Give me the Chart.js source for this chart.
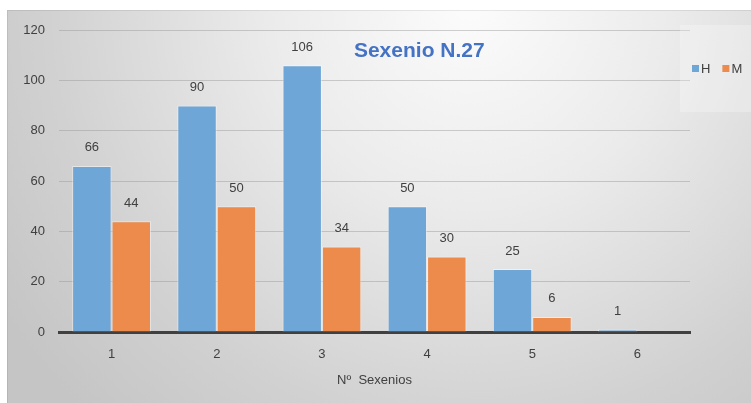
<!DOCTYPE html>
<html>
<head>
<meta charset="utf-8">
<script src="https://cdn.jsdelivr.net/npm/chart.js@4/dist/chart.umd.min.js"></script>
<style>
  html, body { margin: 0; padding: 0; background: #ffffff; }
  #wrap { width: 751px; height: 403px; position: relative; }
</style>
</head>
<body>
<div id="wrap"><canvas id="c" width="751" height="403"></canvas></div>
<script>
// Número de sexenios por sexo
const categories = ['1', '2', '3', '4', '5', '6'];
const seriesNames = ['H', 'M'];
const hValues = [66, 90, 106, 50, 25, 1];
const mValues = [44, 50, 34, 30, 6, null];
const yTicks = [0, 20, 40, 60, 80, 100, 120];

const BLUE = 'rgb(111,166,216)';
const ORANGE = 'rgb(236,139,76)';
const TEXT = '#404040';
const FONT = '"Liberation Sans", Arial, sans-serif';

// Card background with a soft radial shading
const backgroundPlugin = {
  id: 'cardBackground',
  beforeDraw(chart) {
    const ctx = chart.ctx;
    const x0 = 7, y0 = 10, w = chart.width - x0, h = chart.height - y0;
    ctx.save();
    ctx.fillStyle = '#ffffff';
    ctx.fillRect(0, 0, chart.width, chart.height);
    const g = ctx.createRadialGradient(470, 5, 10, 470, 5, 560);
    g.addColorStop(0, '#fbfbfb');
    g.addColorStop(0.35, '#ebebeb');
    g.addColorStop(0.75, '#d1d1d1');
    g.addColorStop(1, '#c5c5c5');
    ctx.fillStyle = g;
    ctx.fillRect(x0, y0, w, h);
    ctx.strokeStyle = 'rgba(0,0,0,0.08)';
    ctx.lineWidth = 1;
    ctx.beginPath();
    ctx.moveTo(x0 + 0.5, chart.height);
    ctx.lineTo(x0 + 0.5, y0 + 0.5);
    ctx.lineTo(chart.width, y0 + 0.5);
    ctx.stroke();
    ctx.restore();
  }
};

// Value labels above each bar, chart title and legend box
const overlayPlugin = {
  id: 'overlay',
  afterDatasetsDraw(chart) {
    const ctx = chart.ctx;
    ctx.save();
    ctx.font = '13px ' + FONT;
    ctx.fillStyle = TEXT;
    ctx.textAlign = 'center';
    ctx.textBaseline = 'middle';
    chart.data.datasets.forEach((ds, di) => {
      const meta = chart.getDatasetMeta(di);
      meta.data.forEach((bar, i) => {
        const v = ds.data[i];
        if (v === null || v === undefined) return;
        ctx.fillText(String(v), bar.x, bar.y - 18);
      });
    });

    // Title inside the plot area
    const area = chart.chartArea;
    ctx.font = 'bold 21px ' + FONT;
    ctx.fillStyle = '#4472C4';
    ctx.fillText('Sexenio N.27', area.left + (area.right - area.left) * 0.571, area.top + 21);

    // Legend box
    const lx = area.right - 10, ly = 25, lw = chart.width - lx, lh = 87;
    ctx.fillStyle = 'rgba(255,255,255,0.25)';
    ctx.fillRect(lx, ly, lw, lh);
    ctx.font = '13px ' + FONT;
    ctx.textAlign = 'left';
    let x = lx + 12;
    const y = ly + 44;
    chart.data.datasets.forEach((ds) => {
      ctx.fillStyle = ds.backgroundColor;
      ctx.fillRect(x, y - 4, 7, 7);
      ctx.fillStyle = TEXT;
      ctx.fillText(ds.label, x + 9, y);
      x += 9 + ctx.measureText(ds.label).width + 12;
    });
    ctx.restore();
  }
};

new Chart(document.getElementById('c'), {
  type: 'bar',
  data: {
    labels: categories,
    datasets: [
      { label: seriesNames[0], data: hValues, backgroundColor: BLUE,
        borderColor: 'rgba(255,255,255,0.45)', borderWidth: 1,
        categoryPercentage: 0.75, barPercentage: 1.0 },
      { label: seriesNames[1], data: mValues, backgroundColor: ORANGE,
        borderColor: 'rgba(255,255,255,0.45)', borderWidth: 1,
        categoryPercentage: 0.75, barPercentage: 1.0 }
    ]
  },
  options: {
    responsive: false,
    animation: false,
    devicePixelRatio: 1,
    layout: { padding: { left: 0, top: 30, right: 61, bottom: 0 } },
    plugins: {
      legend: { display: false },
      title: { display: false },
      tooltip: { enabled: false }
    },
    scales: {
      x: {
        grid: { display: false, drawTicks: false },
        border: { display: true, color: '#404040', width: 3 },
        ticks: { color: TEXT, font: { family: FONT, size: 13 }, padding: 15 },
        title: { display: true, text: 'Nº  Sexenios', color: TEXT,
                 font: { family: FONT, size: 13 }, padding: { top: 4, bottom: 15 } },
        afterFit(scale) { scale.height = 71; }
      },
      y: {
        min: 0, max: 120,
        afterBuildTicks(scale) { scale.ticks = yTicks.map(v => ({ value: v })); },
        grid: { color: 'rgba(150,150,150,0.45)', drawTicks: false, lineWidth: 1 },
        border: { display: false },
        ticks: { color: TEXT, font: { family: FONT, size: 13 }, padding: 14 },
        afterFit(scale) { scale.width = 59; }
      }
    }
  },
  plugins: [backgroundPlugin, overlayPlugin]
});
</script>
</body>
</html>
